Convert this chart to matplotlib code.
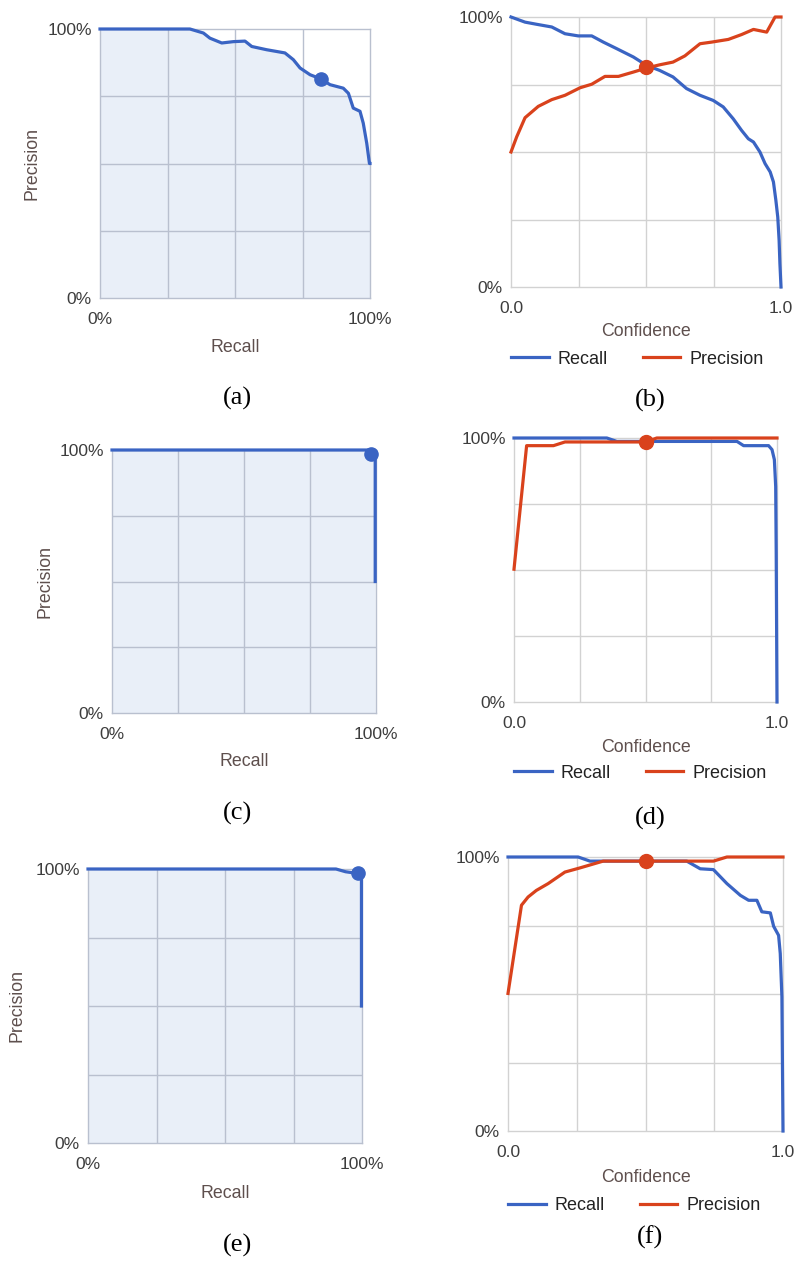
import numpy as np
import matplotlib
matplotlib.use("Agg")
import matplotlib.pyplot as plt
from matplotlib.lines import Line2D

plt.rcParams['font.family'] = ['Liberation Sans', 'DejaVu Sans']

# ---- data ----
# (a) precision-recall curve
a_recall = [0.0, 0.333, 0.383, 0.407, 0.451, 0.494, 0.537, 0.562, 0.617, 0.685,
            0.716, 0.741, 0.778, 0.817, 0.852, 0.901, 0.920, 0.938, 0.963, 0.975,
            0.988, 0.998, 1.0]
a_precision = [1.0, 1.0, 0.985, 0.966, 0.948, 0.953, 0.955, 0.935, 0.923, 0.911,
               0.886, 0.855, 0.830, 0.815, 0.793, 0.780, 0.761, 0.706, 0.694, 0.650,
               0.575, 0.500, 0.500]
a_point = (0.817, 0.815)

# (b) recall / precision vs confidence
b_conf_r = [0.0, 0.052, 0.095, 0.151, 0.2, 0.249, 0.299, 0.342, 0.391, 0.453,
            0.502, 0.551, 0.600, 0.650, 0.700, 0.749, 0.786, 0.823, 0.854, 0.879,
            0.898, 0.922, 0.941, 0.960, 0.972, 0.981, 0.988, 0.993, 0.996, 1.0]
b_recall = [1.0, 0.981, 0.973, 0.963, 0.938, 0.930, 0.930, 0.907, 0.883, 0.852,
            0.821, 0.802, 0.778, 0.735, 0.710, 0.691, 0.667, 0.623, 0.580, 0.549,
            0.537, 0.500, 0.457, 0.426, 0.389, 0.321, 0.259, 0.173, 0.086, 0.0]
b_conf_p = [0.0, 0.021, 0.052, 0.101, 0.151, 0.2, 0.256, 0.299, 0.348, 0.398,
            0.453, 0.502, 0.551, 0.600, 0.644, 0.700, 0.743, 0.805, 0.854, 0.898,
            0.947, 0.978, 1.0]
b_precision = [0.5, 0.556, 0.627, 0.669, 0.694, 0.710, 0.738, 0.751, 0.780, 0.780,
               0.796, 0.811, 0.823, 0.833, 0.856, 0.901, 0.907, 0.917, 0.935, 0.954,
               0.944, 1.0, 1.0]
b_point = (0.5, 0.813)

# (c) precision-recall curve
c_recall = [0.0, 0.975, 0.985, 0.997, 0.997]
c_precision = [1.0, 1.0, 0.987, 0.985, 0.5]
c_point = (0.982, 0.985)

# (d) recall / precision vs confidence
d_conf_r = [0.0, 0.353, 0.391, 0.848, 0.873, 0.968, 0.981, 0.990, 0.995, 0.997, 1.0]
d_recall = [1.0, 1.0, 0.987, 0.987, 0.971, 0.971, 0.956, 0.918, 0.816, 0.563, 0.0]
d_conf_p = [0.0, 0.048, 0.150, 0.194, 0.5, 0.543, 1.0]
d_precision = [0.503, 0.971, 0.971, 0.985, 0.985, 1.0, 1.0]
d_point = (0.5, 0.985)

# (e) precision-recall curve
e_recall = [0.0, 0.905, 0.94, 0.975, 0.998, 0.998]
e_precision = [1.0, 1.0, 0.99, 0.985, 0.985, 0.5]
e_point = (0.985, 0.986)

# (f) recall / precision vs confidence
f_conf_r = [0.0, 0.255, 0.298, 0.650, 0.699, 0.747, 0.796, 0.845, 0.875, 0.905,
            0.923, 0.954, 0.966, 0.984, 0.990, 0.996, 1.0]
f_recall = [1.0, 1.0, 0.985, 0.985, 0.957, 0.954, 0.903, 0.860, 0.842, 0.842,
            0.800, 0.796, 0.747, 0.714, 0.648, 0.490, 0.0]
f_conf_p = [0.0, 0.049, 0.073, 0.103, 0.146, 0.207, 0.261, 0.346, 0.747, 0.796, 1.0]
f_precision = [0.502, 0.824, 0.854, 0.878, 0.903, 0.945, 0.960, 0.985, 0.985, 1.0, 1.0]
f_point = (0.502, 0.984)

BLUE = '#3a64c3'
RED = '#d9421c'
FILL = '#e9eff8'
PR_GRID = '#b9c0cf'
GRID = '#d2d2d2'
TICK_C = '#3d3d3d'
TITLE_C = '#5e4f4d'

W, H = 796, 1261
fig = plt.figure(figsize=(W / 100, H / 100), dpi=100)


def px_axes(l, t, r, b):
    return fig.add_axes([l / W, 1 - b / H, (r - l) / W, (b - t) / H])


def ftext(x, y, s, **kw):
    fig.text(x / W, 1 - y / H, s, **kw)


def setup(ax, labels, gridc):
    ax.set_xlim(0, 1)
    ax.set_ylim(0, 1)
    ax.set_xticks([0, 1], labels[0])
    ax.set_yticks([0, 1], labels[1])
    ax.set_xticks([0.25, 0.5, 0.75], minor=True)
    ax.set_yticks([0.25, 0.5, 0.75], minor=True)
    ax.tick_params(which='both', length=0, labelsize=12.5, colors=TICK_C)
    ax.tick_params(axis='x', pad=10)
    ax.tick_params(axis='y', pad=6)
    ax.grid(which='minor', color=gridc, linewidth=1)
    for s in ax.spines.values():
        s.set_color(gridc)
        s.set_linewidth(1)
    ax.set_axisbelow(True)


def pr_panel(box, rec, prec, pt, xlab_y, ylab_x, cap):
    ax = px_axes(*box)
    setup(ax, (['0%', '100%'], ['0%', '100%']), PR_GRID)
    ax.fill_between(rec, prec, 0, color=FILL, zorder=0.5, linewidth=0)
    ax.plot(rec, prec, color=BLUE, linewidth=2.3, clip_on=False, zorder=3)
    ax.plot(*pt, 'o', color=BLUE, markersize=9.5, clip_on=False, zorder=4)
    l, t, r, b = box
    ftext((l + r) / 2, xlab_y, 'Recall', ha='center', va='center',
          fontsize=12.8, color=TITLE_C)
    ftext(ylab_x, (t + b) / 2, 'Precision', ha='center', va='center',
          rotation=90, fontsize=12.8, color=TITLE_C)
    ftext(cap[0], cap[1], cap[2], ha='center', va='center', fontsize=19,
          family='Liberation Serif')
    return ax


def conf_panel(box, cr, rec, cp, prec, pt, xlab_y, leg_y, cap):
    ax = px_axes(*box)
    setup(ax, (['0.0', '1.0'], ['0%', '100%']), GRID)
    ax.plot(cr, rec, color=BLUE, linewidth=2.3, clip_on=False, zorder=3)
    ax.plot(cp, prec, color=RED, linewidth=2.3, clip_on=False, zorder=3)
    ax.plot(*pt, 'o', color=RED, markersize=10, clip_on=False, zorder=4)
    l, t, r, b = box
    ftext((l + r) / 2, xlab_y, 'Confidence', ha='center', va='center',
          fontsize=12.8, color=TITLE_C)
    handles = [Line2D([], [], color=BLUE, linewidth=2.3),
               Line2D([], [], color=RED, linewidth=2.3)]
    ax.legend(handles, ['Recall', 'Precision'], ncol=2, frameon=False,
              loc='center left', bbox_to_anchor=(0, (b - leg_y) / (b - t)),
              borderaxespad=0, borderpad=0, handlelength=2.1,
              handletextpad=0.5, columnspacing=1.9, fontsize=13,
              labelcolor='#222222')
    ftext(cap[0], cap[1], cap[2], ha='center', va='center', fontsize=19,
          family='Liberation Serif')
    return ax


pr_panel((100, 29, 370, 298), a_recall, a_precision, a_point, 348, 32, (237, 398, '(a)'))
conf_panel((511, 17, 781, 287), b_conf_r, b_recall, b_conf_p, b_precision, b_point,
           332, 359, (650, 400, '(b)'))
pr_panel((112, 450, 376, 713), c_recall, c_precision, c_point, 761, 45, (237, 813, '(c)'))
conf_panel((514, 438, 777, 702), d_conf_r, d_recall, d_conf_p, d_precision, d_point,
           747, 773, (650, 818, '(d)'))
pr_panel((88, 869, 362, 1143), e_recall, e_precision, e_point, 1193, 17, (237, 1245, '(e)'))
conf_panel((508, 857, 783, 1131), f_conf_r, f_recall, f_conf_p, f_precision, f_point,
           1178, 1206, (650, 1237, '(f)'))

fig.savefig('out.png', dpi=100)
